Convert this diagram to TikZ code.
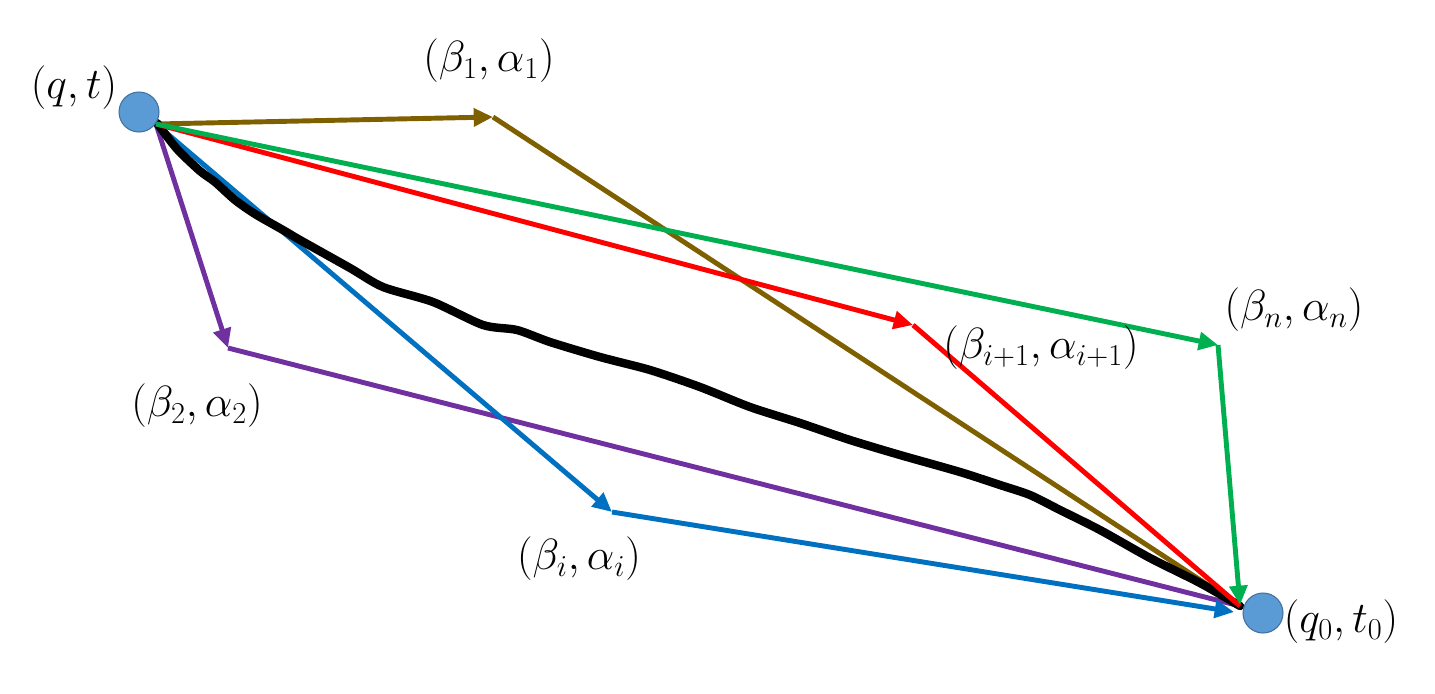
\documentclass[tikz,border=0pt]{standalone}
\usetikzlibrary{arrows.meta}
\definecolor{cbrown}{HTML}{7F6000}
\definecolor{cgreen}{HTML}{00B050}
\definecolor{cred}{HTML}{FF0000}
\definecolor{cpurple}{HTML}{7030A0}
\definecolor{cblue}{HTML}{0070C0}
\definecolor{cdot}{HTML}{5B9BD5}
\definecolor{cdotb}{HTML}{41719C}
\tikzset{
  seg/.style={line width=2.8pt, line join=round},
  arr/.style={seg, -{Triangle[length=11pt,width=10pt]}},
  dot/.style={circle, fill=cdot, draw=cdotb, line width=0.6pt, minimum size=0.8cm, inner sep=0pt},
  lbl/.style={font=\fontsize{23}{27}\selectfont, inner sep=0pt}
}
\begin{document}
\begin{tikzpicture}[x=0.02cm,y=-0.02cm]
\useasboundingbox (0,0) rectangle (1435,693);
% points
\coordinate (o) at (156,124);
\coordinate (e) at (1240,606);
\coordinate (b1) at (493,117);
\coordinate (bn) at (1218,345);
\coordinate (bi1) at (913,325);
\coordinate (b2) at (228,348);
\coordinate (bi) at (612,512);
% brown
\draw[arr, cbrown] (o) -- (b1);
\draw[seg, cbrown] (b1) -- (e);
% purple
\draw[arr, cpurple] (o) -- (b2);
\draw[seg, cpurple] (b2) -- (e);
% blue
\draw[arr, cblue] (o) -- (bi);
\draw[arr, cblue] (bi) -- (1234,612);
% black curve
\draw[line width=4.8pt, line join=round, line cap=round] plot[smooth, tension=0.45] coordinates {
 (157,123) (177,149) (200,171) (215,182) (235,200) (255,214) (283,230) (300,240)
 (350,268) (383,287) (433,302) (483,325) (517,330) (550,342) (600,357) (650,370)
 (700,387) (750,407) (800,423) (850,440) (900,455) (960,472) (1000,485) (1030,495)
 (1060,510) (1100,530) (1150,558) (1200,583) (1240,606)};
% red
\draw[arr, cred] (o) -- (bi1);
\draw[seg, cred] (bi1) -- (e);
% green
\draw[arr, cgreen] (o) -- (bn);
\draw[arr, cgreen] (bn) -- (1240,605);
% circles
\node[dot] (s) at (139,112) {};
\node[dot] (t) at (1263,613) {};
% labels
\node[lbl] (ls) at (74,88) {$(q,t)$};
\node[lbl] (l1) at (489,61) {$(\beta_1,\alpha_1)$};
\node[lbl] (ln) at (1294,310) {$(\beta_n,\alpha_n)$};
\node[lbl] (li1) at (1041,348) {$(\beta_{i+1},\alpha_{i+1})$};
\node[lbl] (l2) at (197,406) {$(\beta_2,\alpha_2)$};
\node[lbl] (li) at (579,559) {$(\beta_i,\alpha_i)$};
\node[lbl] (lt) at (1341,622) {$(q_0,t_0)$};
\end{tikzpicture}
\end{document}
